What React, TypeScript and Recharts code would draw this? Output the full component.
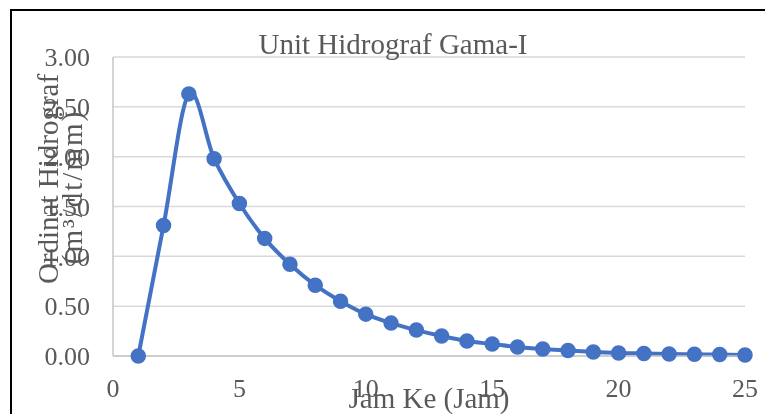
import React from "react";
import { LineChart, Line, XAxis, YAxis, CartesianGrid } from "recharts";

const jamKe = [1, 2, 3, 4, 5, 6, 7, 8, 9, 10, 11, 12, 13, 14, 15, 16, 17, 18, 19, 20, 21, 22, 23, 24, 25];
const ordinat = [0, 1.31, 2.63, 1.98, 1.53, 1.18, 0.92, 0.71, 0.55, 0.42, 0.33, 0.26, 0.2, 0.15, 0.12, 0.09, 0.07, 0.055, 0.04, 0.03, 0.025, 0.02, 0.017, 0.014, 0.01];
const xTicks = [0, 5, 10, 15, 20, 25];
const yTicks = [0, 0.5, 1, 1.5, 2, 2.5, 3];

const title = "Unit Hidrograf Gama-I";
const xTitle = "Jam Ke (Jam)";
const yTitle1 = "Ordinat Hidrograf";
const yTitle2 = "(m³/dt/mm)";

const data = jamKe.map((x, i) => ({ x, y: ordinat[i] }));

const FONT = "'Liberation Serif', 'Times New Roman', serif";
const TEXT = "#595959";
const BLUE = "#4472C4";

// Excel-like smoothing (Catmull-Rom via cubic Bezier)
function excelCurve(context: any) {
  let pts: number[][] = [];
  return {
    areaStart() {},
    areaEnd() {},
    lineStart() {
      pts = [];
    },
    point(x: number, y: number) {
      pts.push([+x, +y]);
    },
    lineEnd() {
      const n = pts.length;
      if (!n) return;
      context.moveTo(pts[0][0], pts[0][1]);
      for (let i = 0; i < n - 1; i++) {
        const p0 = pts[i - 1] || pts[i];
        const p1 = pts[i];
        const p2 = pts[i + 1];
        const p3 = pts[i + 2] || p2;
        const c1x = p1[0] + (p2[0] - p0[0]) / 6;
        const c1y = p1[1] + (p2[1] - p0[1]) / 6;
        const c2x = p2[0] - (p3[0] - p1[0]) / 6;
        const c2y = p2[1] - (p3[1] - p1[1]) / 6;
        context.bezierCurveTo(c1x, c1y, c2x, c2y, p2[0], p2[1]);
      }
    },
  };
}

export default function App() {
  return (
    <div>
      <div
        style={{
          position: "fixed",
          left: 10,
          top: 9,
          width: 900,
          height: 600,
          borderLeft: "2px solid #000",
          borderTop: "2px solid #000",
          boxSizing: "border-box",
        }}
      />
      <div style={{ position: "fixed", left: 0, top: 0, width: 765, height: 414 }}>
        <LineChart
          width={765}
          height={414}
          data={data}
          margin={{ top: 57, right: 20, bottom: 28, left: 53 }}
        >
          <CartesianGrid vertical={false} stroke="#D9D9D9" strokeWidth={1.5} />
          <XAxis
            dataKey="x"
            type="number"
            domain={[0, 25]}
            ticks={xTicks}
            height={30}
            tickSize={0}
            tickMargin={23}
            axisLine={{ stroke: "#C6C6C6", strokeWidth: 1.5 }}
            tick={{ fill: TEXT, fontSize: 26, fontFamily: FONT }}
            label={{
              content: (props: any) => {
                const vb = props.viewBox || {};
                return (
                  <text
                    x={(vb.x ?? 113) + (vb.width ?? 632) / 2}
                    y={408}
                    textAnchor="middle"
                    fill={TEXT}
                    fontSize={29}
                    fontFamily={FONT}
                  >
                    {xTitle}
                  </text>
                );
              },
            }}
          />
          <YAxis
            type="number"
            domain={[0, 3]}
            ticks={yTicks}
            width={60}
            tickSize={0}
            tickMargin={23}
            axisLine={{ stroke: "#C6C6C6", strokeWidth: 1.5 }}
            tickFormatter={(v: number) => v.toFixed(2)}
            tick={{ fill: TEXT, fontSize: 26, fontFamily: FONT }}
            label={{
              content: () => (
                <g>
                  <text
                    transform="translate(58,179) rotate(-90)"
                    textAnchor="middle"
                    fill={TEXT}
                    fontSize={29}
                    fontFamily={FONT}
                  >
                    {yTitle1}
                  </text>
                  <text
                    transform="translate(82,187) rotate(-90)"
                    textAnchor="middle"
                    fill={TEXT}
                    fontSize={29}
                    fontFamily={FONT}
                    letterSpacing={2}
                  >
                    {yTitle2}
                  </text>
                </g>
              ),
            }}
          />
          <Line
            dataKey="y"
            type={excelCurve as any}
            stroke={BLUE}
            strokeWidth={4}
            dot={{ r: 7, fill: BLUE, stroke: BLUE, strokeWidth: 1.5 }}
            activeDot={false}
            isAnimationActive={false}
          />
        </LineChart>
      </div>
      <div
        style={{
          position: "fixed",
          left: 0,
          top: 27,
          width: 786,
          textAlign: "center",
          fontFamily: FONT,
          fontSize: 29,
          lineHeight: "34px",
          color: TEXT,
          whiteSpace: "nowrap",
        }}
      >
        {title}
      </div>
    </div>
  );
}
